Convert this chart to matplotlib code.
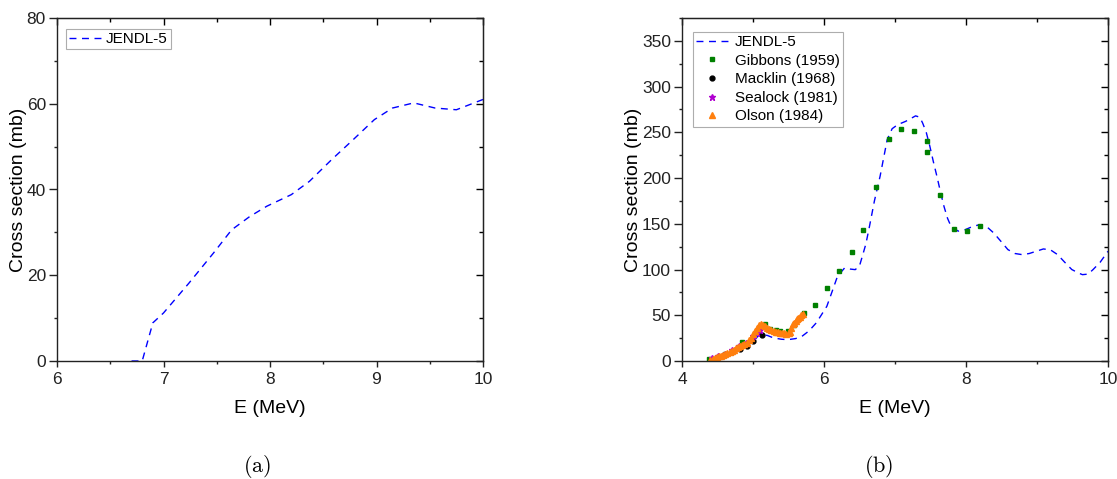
import matplotlib
matplotlib.use("Agg")
import matplotlib.pyplot as plt
from matplotlib.ticker import MultipleLocator

plt.rcParams['font.family'] = ['Liberation Sans', 'DejaVu Sans']
plt.rcParams['mathtext.fontset'] = 'cm'

# (a) JENDL-5, higher threshold channel
e_a = [6.70, 6.80, 6.90, 7.00, 7.24, 7.47, 7.64, 7.81, 7.97, 8.20, 8.37, 8.58,
       8.78, 8.98, 9.15, 9.35, 9.55, 9.75, 10.0]
xs_a = [0.0, 0.0, 8.9, 11.2, 18.2, 25.2, 30.6, 33.7, 36.1, 38.8, 41.9, 47.0,
        51.6, 56.3, 59.0, 60.2, 59.0, 58.6, 61.0]

# (b) JENDL-5
e_b = [4.40, 4.50, 4.60, 4.70, 4.79, 4.89, 5.00, 5.09, 5.20, 5.29, 5.40, 5.49,
       5.60, 5.69, 5.79, 5.89, 5.96, 6.04, 6.11, 6.19, 6.29, 6.37, 6.44, 6.50,
       6.54, 6.59, 6.64, 6.71, 6.79, 6.89, 6.96, 7.04, 7.15, 7.29, 7.35, 7.39,
       7.44, 7.49, 7.54, 7.59, 7.64, 7.69, 7.74, 7.79, 7.89, 7.99, 8.09, 8.19,
       8.29, 8.39, 8.49, 8.59, 8.69, 8.79, 8.89, 8.99, 9.09, 9.19, 9.29, 9.39,
       9.49, 9.59, 9.64, 9.72, 9.79, 9.89, 10.0]
xs_b = [0.5, 3.0, 6.0, 9.0, 12.4, 16.0, 21.0, 28.8, 28.0, 25.2, 23.8, 23.3,
        24.5, 27.0, 33.0, 41.6, 50.0, 59.8, 75.0, 92.6, 101.7, 100.5, 99.9, 104.0,
        114.5, 128.0, 147.0, 175.0, 202.0, 242.0, 254.0, 258.5, 262.0, 268.0, 266.5, 260.0,
        250.0, 235.0, 218.0, 202.0, 185.0, 169.0, 156.0, 147.0, 142.0, 143.6, 147.0, 149.0,
        147.0, 140.0, 131.0, 121.8, 117.5, 116.3, 117.5, 120.0, 122.5, 121.5, 116.3, 108.0,
        100.0, 96.0, 94.4, 95.0, 100.0, 108.0, 120.0]

# Gibbons (1959)
e_gib = [4.38, 4.60, 4.85, 5.17, 5.24, 5.32, 5.38, 5.49, 5.58, 5.72, 5.87, 6.04,
         6.21, 6.39, 6.55, 6.73, 6.91, 7.09, 7.27, 7.45, 7.45, 7.64, 7.83, 8.01, 8.20]
xs_gib = [2.4, 8.0, 20.4, 40.1, 35.0, 34.0, 32.5, 32.5, 39.0, 52.0, 61.6, 79.5,
          98.5, 118.8, 143.0, 190.0, 242.8, 254.0, 251.0, 240.0, 229.0, 182.0, 144.0, 141.8, 148.0]

# Macklin (1968)
e_mac = [4.50, 4.60, 4.70, 4.82, 4.92, 5.00, 5.12]
xs_mac = [4.0, 7.0, 10.0, 13.5, 16.0, 22.0, 28.0]

# Sealock (1981)
e_sea = [4.42, 4.50, 4.60, 4.70, 4.80, 4.90, 5.00, 5.05, 5.10]
xs_sea = [3.0, 5.0, 8.0, 12.0, 16.0, 20.0, 27.0, 31.0, 34.0]

# Olson (1984)
e_ols = [4.40, 4.43, 4.46, 4.49, 4.52, 4.55, 4.58, 4.61, 4.64, 4.67, 4.70, 4.73,
         4.76, 4.79, 4.82, 4.85, 4.88, 4.91, 4.94, 4.97, 5.00, 5.03, 5.06, 5.09,
         5.11, 5.14, 5.17, 5.20, 5.23, 5.26, 5.29, 5.32, 5.35, 5.38, 5.41, 5.44,
         5.47, 5.50, 5.52, 5.54, 5.56, 5.58, 5.60, 5.62, 5.64, 5.66, 5.68, 5.70]
xs_ols = [1.0, 2.0, 3.0, 4.0, 5.0, 6.0, 7.0, 8.0, 9.0, 10.2, 11.3, 12.5,
          13.7, 14.9, 16.0, 17.2, 18.5, 20.0, 22.5, 25.5, 29.0, 33.0, 36.5, 39.0,
          40.0, 39.5, 38.0, 36.2, 34.8, 33.6, 32.6, 31.9, 31.3, 30.8, 30.4, 30.1,
          30.0, 30.2, 32.0, 36.0, 40.0, 42.0, 44.0, 45.5, 47.0, 48.5, 50.0, 51.0]

fig = plt.figure(figsize=(11.17, 4.79), dpi=100)
ax1 = fig.add_axes([57 / 1117, 118 / 479, 426 / 1117, 343 / 479])
ax2 = fig.add_axes([682 / 1117, 118 / 479, 426 / 1117, 343 / 479])


def style_axes(ax):
    for s in ax.spines.values():
        s.set_linewidth(1.0)
        s.set_color('#222222')
    ax.tick_params(which='both', direction='out', top=False, right=False,
                   labelsize=12.5, colors='#222222')
    ax.tick_params(axis='y', which='major', length=5.5, width=1, pad=2.5)
    ax.tick_params(axis='x', which='major', length=4, width=1, pad=4)
    ax.tick_params(which='minor', length=2.5, width=1)
    # inward mirror ticks on top / right
    sx = ax.secondary_xaxis('top')
    sx.set_xticks(ax.get_xticks())
    sx.xaxis.set_minor_locator(ax.xaxis.get_minor_locator())
    sx.tick_params(which='major', direction='in', length=5, width=1, labeltop=False)
    sx.tick_params(which='minor', direction='in', length=3, width=1)
    sy = ax.secondary_yaxis('right')
    sy.set_yticks(ax.get_yticks())
    sy.yaxis.set_minor_locator(ax.yaxis.get_minor_locator())
    sy.tick_params(which='major', direction='in', length=5, width=1, labelright=False)
    sy.tick_params(which='minor', direction='in', length=3, width=1)


# panel (a)
ax1.plot(e_a, xs_a, color='blue', ls=(0, (5, 4)), lw=1.0, label='JENDL-5')
ax1.set_xlim(6, 10)
ax1.set_ylim(0, 80)
ax1.xaxis.set_major_locator(MultipleLocator(1))
ax1.xaxis.set_minor_locator(MultipleLocator(0.5))
ax1.yaxis.set_major_locator(MultipleLocator(20))
ax1.yaxis.set_minor_locator(MultipleLocator(10))
ax1.set_xlabel('E (MeV)', fontsize=14, labelpad=9)
ax1.set_ylabel('Cross section (mb)', fontsize=14, labelpad=0)
leg1 = ax1.legend(loc='upper left', fontsize=11, fancybox=False, edgecolor='#999999',
                  handlelength=2.1, handletextpad=0.35, borderpad=0.2,
                  borderaxespad=0, bbox_to_anchor=(0.02, 0.968))
leg1.get_frame().set_linewidth(0.8)
style_axes(ax1)

# panel (b)
ax2.plot(e_b, xs_b, color='blue', ls=(0, (5, 4)), lw=1.0, label='JENDL-5')
ax2.plot(e_gib, xs_gib, ls='none', marker='s', ms=3.5, color='green', label='Gibbons (1959)')
ax2.plot(e_mac, xs_mac, ls='none', marker='o', ms=3.5, color='black', label='Macklin (1968)')
ax2.plot(e_sea, xs_sea, ls='none', marker='*', ms=4.5, color='#b000d0', label='Sealock (1981)')
ax2.plot(e_ols, xs_ols, ls='none', marker='^', ms=4.5, color='#ff7f0e', label='Olson (1984)')
ax2.set_xlim(4, 10)
ax2.set_ylim(0, 375)
ax2.xaxis.set_major_locator(MultipleLocator(2))
ax2.xaxis.set_minor_locator(MultipleLocator(1))
ax2.yaxis.set_major_locator(MultipleLocator(50))
ax2.yaxis.set_minor_locator(MultipleLocator(25))
ax2.set_xlabel('E (MeV)', fontsize=14, labelpad=9)
ax2.set_ylabel('Cross section (mb)', fontsize=14, labelpad=0)
leg2 = ax2.legend(loc='upper left', fontsize=11, fancybox=False, edgecolor='#999999',
                  handlelength=2.1, handletextpad=0.45, borderpad=0.2, labelspacing=0.3,
                  borderaxespad=0, bbox_to_anchor=(0.025, 0.959))
leg2.get_frame().set_linewidth(0.8)
style_axes(ax2)

fig.text(257 / 1117, 1 - 467 / 479, r'$\mathrm{(a)}$', ha='center', va='center', fontsize=16)
fig.text(879 / 1117, 1 - 467 / 479, r'$\mathrm{(b)}$', ha='center', va='center', fontsize=16)

fig.savefig('out.png', dpi=100)
